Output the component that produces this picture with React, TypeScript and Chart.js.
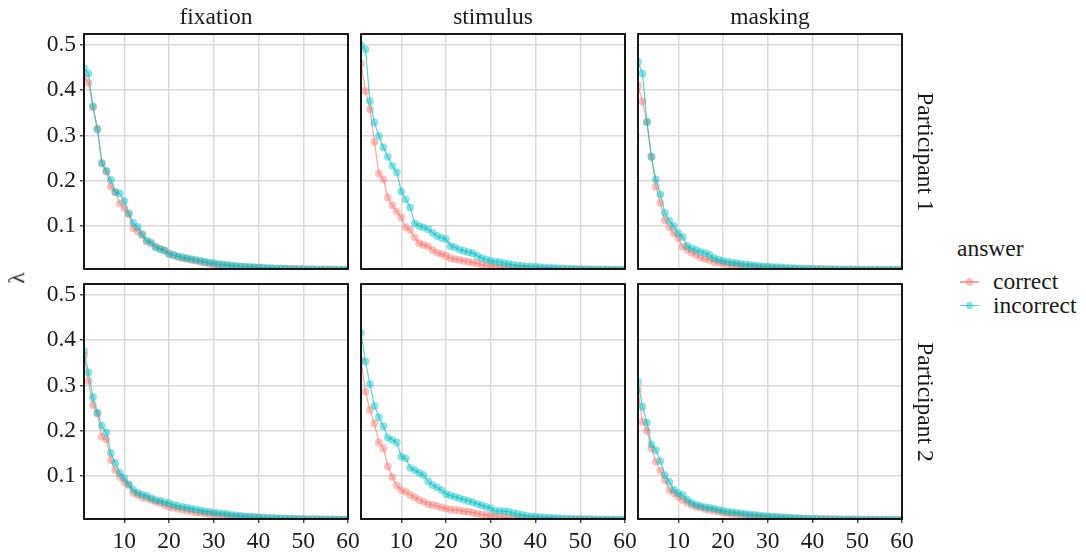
import React, { useEffect, useRef } from 'react';
import { Chart, registerables } from 'chart.js';

Chart.register(...registerables);

// ---- data -------------------------------------------------------------
const PHASES = ['fixation', 'stimulus', 'masking'];
const PARTICIPANTS = ['Participant 1', 'Participant 2'];
const ANSWERS = ['correct', 'incorrect'];
const LEGEND_TITLE = 'answer';
const Y_TITLE = 'λ';

const X_TICKS = [10, 20, 30, 40, 50, 60];
const Y_TICKS = [0.1, 0.2, 0.3, 0.4, 0.5];
const X_MIN = 1;
const X_MAX = 60;
const Y_MIN = 0.005;
const Y_MAX = 0.5243;

// component index 1..60
const COMPONENTS = Array.from({ length: 60 }, (_, i) => i + 1);

// Participant 1
const fixP1Correct = [0.430, 0.416, 0.362, 0.316, 0.238, 0.220, 0.187, 0.175, 0.150, 0.139, 0.126, 0.095, 0.088, 0.080, 0.066, 0.061, 0.055, 0.050, 0.046, 0.040,
  0.035, 0.032, 0.029, 0.027, 0.025, 0.023, 0.021, 0.019, 0.017, 0.015, 0.014, 0.013, 0.012, 0.011, 0.010, 0.0095, 0.009, 0.0085, 0.008, 0.0075,
  0.007, 0.0066, 0.0062, 0.0058, 0.0055, 0.0052, 0.0049, 0.0047, 0.0045, 0.0043, 0.0041, 0.0039, 0.0037, 0.0036, 0.0035, 0.0034, 0.0033, 0.0032, 0.0031, 0.003];
const fixP1Incorrect = [0.449, 0.437, 0.365, 0.313, 0.239, 0.222, 0.202, 0.175, 0.172, 0.155, 0.128, 0.107, 0.098, 0.082, 0.068, 0.064, 0.053, 0.049, 0.046, 0.038,
  0.036, 0.033, 0.031, 0.029, 0.027, 0.025, 0.023, 0.021, 0.019, 0.018, 0.016, 0.015, 0.014, 0.013, 0.012, 0.011, 0.010, 0.0095, 0.009, 0.0085,
  0.008, 0.0075, 0.007, 0.0066, 0.0062, 0.0058, 0.0055, 0.0052, 0.005, 0.0048, 0.0046, 0.0044, 0.0042, 0.0041, 0.004, 0.0039, 0.0038, 0.0037, 0.0036, 0.0035];
const stimP1Correct = [0.459, 0.398, 0.358, 0.286, 0.216, 0.203, 0.163, 0.146, 0.132, 0.119, 0.097, 0.091, 0.075, 0.062, 0.058, 0.055, 0.047, 0.041, 0.038, 0.034,
  0.029, 0.027, 0.025, 0.023, 0.021, 0.019, 0.017, 0.015, 0.013, 0.012, 0.010, 0.009, 0.0085, 0.008, 0.007, 0.0065, 0.006, 0.0055, 0.005, 0.0047,
  0.0045, 0.0043, 0.0041, 0.004, 0.0039, 0.0038, 0.0037, 0.0036, 0.0035, 0.0034, 0.0033, 0.0033, 0.0032, 0.0032, 0.0031, 0.0031, 0.003, 0.003, 0.003, 0.003];
const stimP1Incorrect = [0.500, 0.490, 0.376, 0.329, 0.299, 0.274, 0.253, 0.233, 0.219, 0.176, 0.159, 0.141, 0.106, 0.100, 0.097, 0.093, 0.085, 0.078, 0.074, 0.071,
  0.056, 0.053, 0.048, 0.045, 0.042, 0.040, 0.034, 0.029, 0.026, 0.023, 0.021, 0.020, 0.018, 0.016, 0.014, 0.013, 0.012, 0.011, 0.0105, 0.010,
  0.009, 0.0085, 0.008, 0.0075, 0.007, 0.0065, 0.006, 0.0056, 0.0052, 0.005, 0.0047, 0.0045, 0.0043, 0.0041, 0.004, 0.0039, 0.0038, 0.0037, 0.0036, 0.0035];
const maskP1Correct = [0.410, 0.375, 0.330, 0.253, 0.187, 0.151, 0.113, 0.097, 0.084, 0.073, 0.054, 0.047, 0.041, 0.036, 0.030, 0.027, 0.025, 0.021, 0.019, 0.017,
  0.015, 0.014, 0.013, 0.012, 0.011, 0.010, 0.009, 0.0085, 0.008, 0.0075, 0.007, 0.0065, 0.006, 0.0056, 0.0052, 0.005, 0.0048, 0.0046, 0.0044, 0.0042,
  0.004, 0.0039, 0.0038, 0.0037, 0.0036, 0.0035, 0.0034, 0.0034, 0.0033, 0.0033, 0.0032, 0.0032, 0.0031, 0.0031, 0.003, 0.003, 0.003, 0.003, 0.003, 0.003];
const maskP1Incorrect = [0.463, 0.437, 0.330, 0.253, 0.203, 0.170, 0.129, 0.112, 0.100, 0.084, 0.076, 0.056, 0.051, 0.047, 0.043, 0.040, 0.036, 0.029, 0.026, 0.023,
  0.021, 0.019, 0.018, 0.016, 0.015, 0.014, 0.013, 0.012, 0.011, 0.010, 0.0095, 0.009, 0.0085, 0.008, 0.0075, 0.007, 0.0066, 0.0062, 0.0058, 0.0055,
  0.0052, 0.005, 0.0048, 0.0046, 0.0044, 0.0042, 0.0041, 0.004, 0.0039, 0.0038, 0.0037, 0.0036, 0.0035, 0.0035, 0.0034, 0.0034, 0.0033, 0.0033, 0.0032, 0.0032];

// Participant 2
const fixP2Correct = [0.367, 0.310, 0.257, 0.238, 0.187, 0.181, 0.135, 0.113, 0.098, 0.087, 0.080, 0.063, 0.058, 0.053, 0.051, 0.047, 0.043, 0.040, 0.036, 0.032,
  0.030, 0.028, 0.026, 0.024, 0.022, 0.020, 0.019, 0.017, 0.016, 0.015, 0.014, 0.013, 0.012, 0.011, 0.010, 0.0095, 0.009, 0.0085, 0.008, 0.0075,
  0.007, 0.0066, 0.0062, 0.0058, 0.0055, 0.0052, 0.005, 0.0048, 0.0046, 0.0044, 0.0042, 0.0041, 0.004, 0.0039, 0.0038, 0.0037, 0.0036, 0.0035, 0.0034, 0.0033];
const fixP2Incorrect = [0.376, 0.329, 0.274, 0.240, 0.211, 0.196, 0.151, 0.129, 0.107, 0.095, 0.082, 0.070, 0.063, 0.059, 0.056, 0.051, 0.047, 0.045, 0.042, 0.040,
  0.036, 0.034, 0.032, 0.030, 0.028, 0.026, 0.024, 0.022, 0.021, 0.019, 0.018, 0.017, 0.016, 0.014, 0.013, 0.012, 0.011, 0.010, 0.0095, 0.009,
  0.0085, 0.008, 0.0075, 0.007, 0.0066, 0.0062, 0.0058, 0.0055, 0.0052, 0.005, 0.0048, 0.0046, 0.0044, 0.0042, 0.0041, 0.004, 0.0039, 0.0038, 0.0037, 0.0036];
const stimP2Correct = [0.356, 0.286, 0.246, 0.216, 0.174, 0.161, 0.121, 0.098, 0.079, 0.069, 0.065, 0.058, 0.053, 0.047, 0.043, 0.038, 0.036, 0.034, 0.030, 0.028,
  0.026, 0.025, 0.024, 0.022, 0.021, 0.019, 0.017, 0.015, 0.014, 0.012, 0.011, 0.010, 0.009, 0.008, 0.007, 0.0065, 0.006, 0.0055, 0.005, 0.0047,
  0.0045, 0.0043, 0.0041, 0.004, 0.0039, 0.0038, 0.0037, 0.0036, 0.0035, 0.0034, 0.0033, 0.0033, 0.0032, 0.0032, 0.0031, 0.0031, 0.003, 0.003, 0.003, 0.003];
const stimP2Incorrect = [0.417, 0.353, 0.303, 0.255, 0.230, 0.210, 0.185, 0.180, 0.174, 0.143, 0.139, 0.118, 0.113, 0.107, 0.102, 0.088, 0.080, 0.075, 0.069, 0.060,
  0.057, 0.054, 0.051, 0.048, 0.045, 0.042, 0.038, 0.035, 0.032, 0.029, 0.023, 0.023, 0.022, 0.021, 0.018, 0.016, 0.014, 0.012, 0.011, 0.010,
  0.009, 0.0085, 0.008, 0.0075, 0.007, 0.0065, 0.006, 0.0056, 0.0052, 0.005, 0.0048, 0.0046, 0.0044, 0.0042, 0.004, 0.0039, 0.0038, 0.0037, 0.0036, 0.0035];
const maskP2Correct = [0.290, 0.220, 0.200, 0.161, 0.132, 0.112, 0.091, 0.069, 0.062, 0.054, 0.047, 0.041, 0.036, 0.032, 0.030, 0.027, 0.025, 0.023, 0.021, 0.019,
  0.017, 0.016, 0.015, 0.014, 0.013, 0.012, 0.011, 0.010, 0.0095, 0.009, 0.0085, 0.008, 0.0075, 0.007, 0.0065, 0.006, 0.0056, 0.0052, 0.005, 0.0048,
  0.0046, 0.0044, 0.0042, 0.004, 0.0039, 0.0038, 0.0037, 0.0036, 0.0035, 0.0034, 0.0034, 0.0033, 0.0033, 0.0032, 0.0032, 0.0031, 0.0031, 0.003, 0.003, 0.003];
const maskP2Incorrect = [0.308, 0.253, 0.218, 0.170, 0.157, 0.133, 0.102, 0.087, 0.070, 0.062, 0.058, 0.048, 0.041, 0.036, 0.034, 0.031, 0.030, 0.028, 0.025, 0.023,
  0.021, 0.020, 0.019, 0.018, 0.016, 0.015, 0.014, 0.013, 0.012, 0.011, 0.010, 0.0095, 0.009, 0.0085, 0.008, 0.0075, 0.007, 0.0066, 0.0062, 0.0058,
  0.0055, 0.0052, 0.005, 0.0048, 0.0046, 0.0044, 0.0042, 0.0041, 0.004, 0.0039, 0.0038, 0.0037, 0.0036, 0.0035, 0.0035, 0.0034, 0.0034, 0.0033, 0.0033, 0.0032];

// [row][col] -> [correct, incorrect]
const SERIES = [
  [[fixP1Correct, fixP1Incorrect], [stimP1Correct, stimP1Incorrect], [maskP1Correct, maskP1Incorrect]],
  [[fixP2Correct, fixP2Incorrect], [stimP2Correct, stimP2Incorrect], [maskP2Correct, maskP2Incorrect]],
];

// ---- styling / layout -------------------------------------------------
const FONT = '"Liberation Serif", "Times New Roman", Times, serif';
const FONT_SIZE = 23.5;
const TEXT_COLOR = '#1a1a1a';
const GRID_COLOR = 'rgb(217,217,217)';
const COLORS = {
  correct: { line: 'rgba(248,118,109,0.65)', point: 'rgba(248,118,109,0.45)' },
  incorrect: { line: 'rgba(0,191,196,0.65)', point: 'rgba(0,191,196,0.45)' },
};

Chart.defaults.font.family = FONT;

const COL_LEFT = [84, 361, 638];
const ROW_TOP = [34, 284];
const PANEL_W = 264;
const PANEL_H = 235;
const PAD_T = 10;
const PAD_R = 20;

const framePlugin = {
  id: 'panelFrame',
  afterDraw(chart: any) {
    const { ctx, chartArea: a } = chart;
    ctx.save();
    ctx.strokeStyle = '#000';
    ctx.lineWidth = 1.8;
    ctx.strokeRect(a.left, a.top, a.right - a.left, a.bottom - a.top);
    ctx.restore();
  },
};

function Panel({ row, col }: { row: number; col: number }) {
  const ref = useRef<HTMLCanvasElement | null>(null);
  const padL = col === 0 ? 84 : 10;
  const padB = row === 1 ? 40 : 10;
  const w = PANEL_W + padL + PAD_R;
  const h = PANEL_H + PAD_T + padB;

  useEffect(() => {
    if (!ref.current) return;
    const [correct, incorrect] = SERIES[row][col];
    const mk = (label: string, values: number[]) => {
      const c = (COLORS as any)[label];
      return {
        label,
        data: COMPONENTS.map((x, i) => ({ x, y: values[i] })),
        borderColor: c.line,
        backgroundColor: c.point,
        pointBackgroundColor: c.point,
        pointBorderWidth: 0,
        pointRadius: 3.9,
        borderWidth: 1.2,
        tension: 0,
        clip: 0,
      };
    };
    const chart = new Chart(ref.current, {
      type: 'line',
      // first dataset is painted last, so "incorrect" sits on top
      data: { datasets: [mk('incorrect', incorrect), mk('correct', correct)] as any },
      options: {
        animation: false,
        responsive: false,
        maintainAspectRatio: false,
        devicePixelRatio: 1,
        events: [],
        layout: { padding: { top: PAD_T, right: PAD_R, left: 0, bottom: 0 } },
        plugins: { legend: { display: false }, tooltip: { enabled: false } },
        scales: {
          x: {
            type: 'linear',
            min: X_MIN,
            max: X_MAX,
            afterBuildTicks: (s: any) => { s.ticks = X_TICKS.map((v) => ({ value: v })); },
            afterFit: (s: any) => { s.height = padB; s.paddingLeft = 0; s.paddingRight = 0; },
            border: { display: false },
            grid: { color: GRID_COLOR, lineWidth: 1.5, drawTicks: row === 1, tickLength: 4, tickColor: '#333', tickWidth: 1.3 },
            ticks: {
              display: row === 1,
              autoSkip: false,
              maxRotation: 0,
              padding: 5,
              color: TEXT_COLOR,
              font: { family: FONT, size: FONT_SIZE },
              callback: (v: any) => String(v),
            },
          },
          y: {
            type: 'linear',
            min: Y_MIN,
            max: Y_MAX,
            afterBuildTicks: (s: any) => { s.ticks = Y_TICKS.map((v) => ({ value: v })); },
            afterFit: (s: any) => { s.width = padL; s.paddingTop = 0; s.paddingBottom = 0; },
            border: { display: false },
            grid: { color: GRID_COLOR, lineWidth: 1.5, drawTicks: col === 0, tickLength: 4, tickColor: '#333', tickWidth: 1.3 },
            ticks: {
              display: col === 0,
              padding: 4,
              color: TEXT_COLOR,
              font: { family: FONT, size: FONT_SIZE },
              callback: (v: any) => Number(v).toFixed(1),
            },
          },
        },
      } as any,
      plugins: [framePlugin],
    });
    return () => chart.destroy();
  }, [row, col]);

  return (
    <canvas
      ref={ref}
      width={w}
      height={h}
      style={{ position: 'absolute', left: COL_LEFT[col] - padL, top: ROW_TOP[row] - PAD_T, width: w, height: h }}
    />
  );
}

function Label({ x, y, text, rotate = 0, align = 'center' }: { x: number; y: number; text: string; rotate?: number; align?: string }) {
  const tx = align === 'left' ? '0' : '-50%';
  return (
    <div
      style={{
        position: 'absolute',
        left: x,
        top: y,
        transform: `translate(${tx}, -50%) rotate(${rotate}deg)`,
        transformOrigin: align === 'left' ? 'left center' : 'center center',
        fontFamily: FONT,
        fontSize: FONT_SIZE,
        color: TEXT_COLOR,
        whiteSpace: 'nowrap',
        lineHeight: 1,
      }}
    >
      {text}
    </div>
  );
}

function LegendKey({ x, y, label }: { x: number; y: number; label: string }) {
  const c = (COLORS as any)[label];
  return (
    <>
      <div style={{ position: 'absolute', left: x, top: y - 0.6, width: 19, height: 1.2, background: c.line }} />
      <div style={{ position: 'absolute', left: x + 9.5 - 3.9, top: y - 3.9, width: 7.8, height: 7.8, borderRadius: '50%', background: c.point }} />
      <Label x={x + 33} y={y} text={label} align="left" />
    </>
  );
}

export default function App() {
  return (
    <div style={{ position: 'fixed', left: 0, top: 0, width: 1086, height: 555, background: '#fff', overflow: 'hidden' }}>
      {[0, 1].map((r) => [0, 1, 2].map((c) => <Panel key={`${r}-${c}`} row={r} col={c} />))}
      {PHASES.map((p, i) => (
        <Label key={p} x={COL_LEFT[i] + PANEL_W / 2} y={17} text={p} />
      ))}
      {PARTICIPANTS.map((p, i) => (
        <Label key={p} x={925} y={ROW_TOP[i] + PANEL_H / 2} text={p} rotate={90} />
      ))}
      <Label x={17} y={278} text={Y_TITLE} rotate={-90} />
      <Label x={957} y={249} text={LEGEND_TITLE} align="left" />
      {ANSWERS.map((a, i) => (
        <LegendKey key={a} x={960} y={282 + i * 23.5} label={a} />
      ))}
    </div>
  );
}
